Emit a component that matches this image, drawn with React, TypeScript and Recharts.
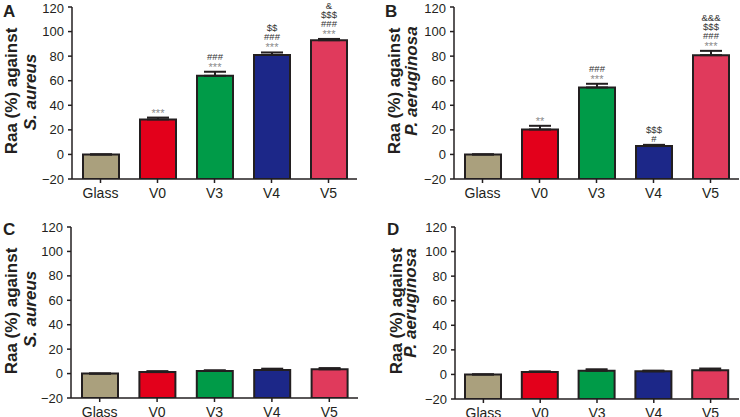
import { BarChart, Bar, XAxis, YAxis, ErrorBar, LabelList, Cell } from "recharts";

const categories = ["Glass", "V0", "V3", "V4", "V5"];
const barColors = ["#aaa07d", "#e3001b", "#009b48", "#1c2788", "#e03a5c"];
const yTicks = [-20, 0, 20, 40, 60, 80, 100, 120];
const Y_MIN = -20;
const Y_MAX = 120;

// panel A / B (live), C / D (second condition)
const raaA = [0, 28.5, 64, 81, 93];
const errA = [0, 1.5, 3.3, 2, 1];
const raaB = [0, 20.3, 54.5, 6.8, 80.8];
const errB = [0, 3, 3, 1, 3.5];
const raaC = [0, 1.2, 2.2, 3, 3.5];
const errC = [0, 0.8, 0.5, 1, 1];
const raaD = [0, 2, 3, 2.5, 3.5];
const errD = [0, 0.5, 1.2, 0.6, 1.3];

const marksA = [[], ["***"], ["***", "###"], ["***", "###", "$$"], ["***", "###", "$$$", "&"]];
const marksB = [[], ["**"], ["***", "###"], ["#", "$$$"], ["***", "###", "$$$", "&&&"]];
const noMarks = [[], [], [], [], []];

const FONT = "'Liberation Sans', Arial, sans-serif";
const INK = "#231f20";

type PanelProps = {
  letter: string;
  organism: string;
  values: number[];
  errors: number[];
  marks: string[][];
  x: number;
  y: number;
  h: number;
  mLeft: number;
  mRight: number;
  mTop: number;
  xAxisH: number;
  letterX: number;
  letterY: number;
  l1x: number;
  l1y: number;
  l2x: number;
  l2y: number;
};

function Panel(p: PanelProps) {
  const data = categories.map((name, i) => ({
    name,
    range: [Y_MIN, p.values[i]],
    err: [0, p.errors[i]],
  }));

  const renderMarks = (props: any) => {
    const { x, y, width, height, index } = props;
    const lines = p.marks[index] || [];
    if (!lines.length) return null;
    const ppu = height / (p.values[index] - Y_MIN);
    const capY = y - p.errors[index] * ppu;
    const cx = x + width / 2;
    return (
      <g>
        {lines.map((s, k) => (
          <text
            key={k}
            x={cx}
            y={s.startsWith("*") ? capY - 1 - k * 9 : capY - 3 - k * 9}
            textAnchor="middle"
            fontSize={s.startsWith("*") ? 11 : 9.5}
            fontFamily={FONT}
            fill={s.startsWith("*") ? "#8a8a8a" : "#333"}
          >
            {s}
          </text>
        ))}
      </g>
    );
  };

  return (
    <div style={{ position: "absolute", left: p.x, top: p.y, width: 370, height: p.h }}>
      <BarChart
        width={370}
        height={p.h}
        data={data}
        margin={{ top: p.mTop, right: p.mRight, bottom: 0, left: p.mLeft }}
        barSize={36}
      >
        <XAxis
          dataKey="name"
          height={p.xAxisH}
          tickSize={4}
          tickMargin={5}
          stroke={INK}
          strokeWidth={1.5}
          tick={{ fill: INK, fontSize: 14, fontFamily: FONT }}
        />
        <YAxis
          width={40}
          type="number"
          domain={[Y_MIN, Y_MAX]}
          ticks={yTicks}
          allowDataOverflow
          tickSize={4}
          tickMargin={4}
          stroke={INK}
          strokeWidth={1.5}
          tick={{ fill: INK, fontSize: 13, fontFamily: FONT }}
          tickFormatter={(v: number) => (v < 0 ? `\u2212${Math.abs(v)}` : `${v}`)}
        />
        <Bar dataKey="range" stroke={INK} strokeWidth={2} isAnimationActive={false}>
          {data.map((_, i) => (
            <Cell key={i} fill={barColors[i]} />
          ))}
          <ErrorBar dataKey="err" width={11} stroke={INK} strokeWidth={2} direction="y" />
          <LabelList dataKey="name" content={renderMarks} />
        </Bar>
      </BarChart>
      <svg
        width={370}
        height={p.h}
        style={{ position: "absolute", left: 0, top: 0, pointerEvents: "none" }}
      >
        <text x={p.letterX} y={p.letterY} fontSize={17} fontWeight="bold" fontFamily={FONT} fill={INK}>
          {p.letter}
        </text>
        <text
          transform={`translate(${p.l1x},${p.l1y}) rotate(-90)`}
          textAnchor="middle"
          fontSize={17}
          fontWeight="bold"
          fontFamily={FONT}
          fill={INK}
        >
          Raa (%) against
        </text>
        <text
          transform={`translate(${p.l2x},${p.l2y}) rotate(-90)`}
          textAnchor="middle"
          fontSize={17}
          fontWeight="bold"
          fontStyle="italic"
          fontFamily={FONT}
          fill={INK}
        >
          {p.organism}
        </text>
      </svg>
    </div>
  );
}

export default function App() {
  return (
    <div style={{ position: "absolute", left: 0, top: 0, width: 740, height: 417, background: "#fff" }}>
      <Panel
        letter="A" organism="S. aureus" values={raaA} errors={errA} marks={marksA}
        x={0} y={0} h={210} mLeft={32} mRight={13} mTop={7} xAxisH={31}
        letterX={3} letterY={17} l1x={17} l1y={91} l2x={36} l2y={92}
      />
      <Panel
        letter="B" organism="P. aeruginosa" values={raaB} errors={errB} marks={marksB}
        x={370} y={0} h={210} mLeft={44} mRight={1} mTop={7} xAxisH={31}
        letterX={15} letterY={17} l1x={30} l1y={91} l2x={47} l2y={81}
      />
      <Panel
        letter="C" organism="S. aureus" values={raaC} errors={errC} marks={noMarks}
        x={0} y={210} h={207} mLeft={31} mRight={12} mTop={17} xAxisH={19}
        letterX={3} letterY={25} l1x={17} l1y={101} l2x={36} l2y={99}
      />
      <Panel
        letter="D" organism="P. aeruginosa" values={raaD} errors={errD} marks={noMarks}
        x={370} y={210} h={207} mLeft={45} mRight={1} mTop={17} xAxisH={18}
        letterX={17} letterY={25} l1x={32} l1y={101} l2x={46} l2y={93}
      />
    </div>
  );
}
